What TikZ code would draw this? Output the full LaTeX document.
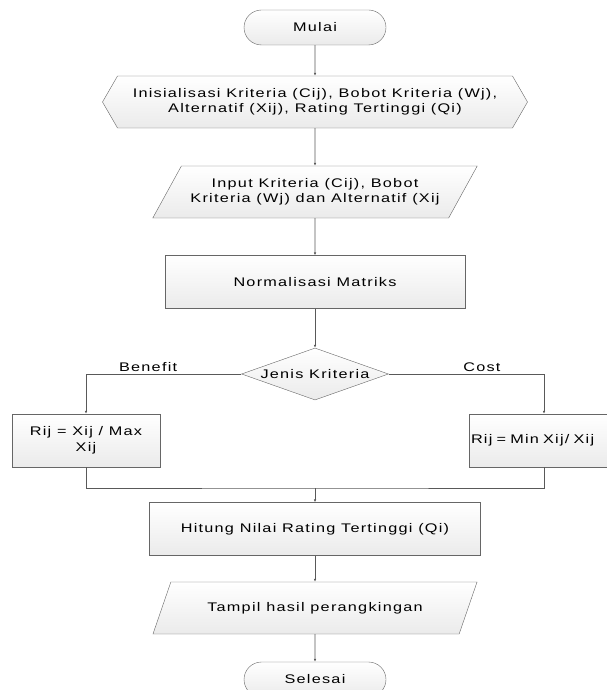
\documentclass[tikz,border=0pt]{standalone}
\usepackage{fontspec}
\setmainfont{Liberation Sans}[FakeStretch=1.3,LetterSpace=10]
\usepackage{tikz}
\usetikzlibrary{calc,shapes,shapes.geometric,shapes.misc,shapes.symbols,arrows.meta,positioning}

\begin{document}
\begin{tikzpicture}[x=1pt,y=-1pt,
	every node/.style={font=\fontsize{12.5}{15.5}\selectfont,align=center},
	box/.style={draw=black!60,top color=white,bottom color=gray!16,inner sep=2pt},
	term/.style={box,rounded rectangle,minimum width=146pt,minimum height=35pt},
	prep/.style={box,signal,signal to=west and east,signal pointer angle=120,minimum width=425pt,minimum height=52pt},
	io/.style={box,trapezium,trapezium left angle=49,trapezium right angle=131,trapezium stretches=true,minimum width=325pt,minimum height=52pt},
	proc/.style={box,rectangle,minimum height=53pt},
	dec/.style={box,diamond,inner sep=0pt,minimum width=147pt,minimum height=52pt},
	line/.style={draw=black!65,line width=0.6pt},
	arr/.style={line,-{Latex[length=3pt,width=2.6pt]}}]
	\useasboundingbox (0,0) rectangle (606,690);
	\def\midx{315}
	% urutan utama
	\node[term] (mulai) at (\midx,27.5) {Mulai};
	\node[prep] (init) at (\midx,102) {Inisialisasi Kriteria (Cij), Bobot Kriteria (Wj),\\ Alternatif (Xij), Rating Tertinggi (Qi)};
	\node[io] (input) at (\midx,192) {Input Kriteria (Cij), Bobot\\ Kriteria (Wj) dan Alternatif (Xij};
	\node[proc,minimum width=300pt] (norm) at (\midx,282) {Normalisasi Matriks};
	\node[dec] (jenis) at (\midx,374) {\makebox[0pt]{Jenis Kriteria}};
	\node[proc,minimum width=148pt] (benefit) at (86,440.5) {Rij = Xij / Max\\ Xij};
	\node[proc,text width=146pt,align=left] (cost) at (544,440.5) {Rij = Min Xij/ Xij};
	\coordinate (gabung) at (\midx,488);
	\node[proc,minimum width=331pt] (hitung) at (\midx,529) {Hitung Nilai Rating Tertinggi (Qi)};
	\node[io] (tampil) at (\midx,608) {Tampil hasil perangkingan};
	\node[term] (selesai) at (\midx,679.5) {Selesai};
	% penghubung
	\draw[arr] (mulai) -- (init);
	\draw[arr] (init) -- (input);
	\draw[arr] (input) -- (norm);
	\draw[arr] (norm) -- (jenis);
	\draw[arr] (jenis.west) -| node[pos=0.3,above=-1pt] {Benefit} (benefit.north);
	\draw[arr] (jenis.east) -| node[pos=0.3,above=-1pt] {Cost} (cost.north);
	\draw[line] (benefit.south) |- (gabung) -| (cost.south);
	\draw[arr] (gabung) -- (hitung);
	\draw[arr] (hitung) -- (tampil);
	\draw[arr] (tampil) -- (selesai);
\end{tikzpicture}
\end{document}
